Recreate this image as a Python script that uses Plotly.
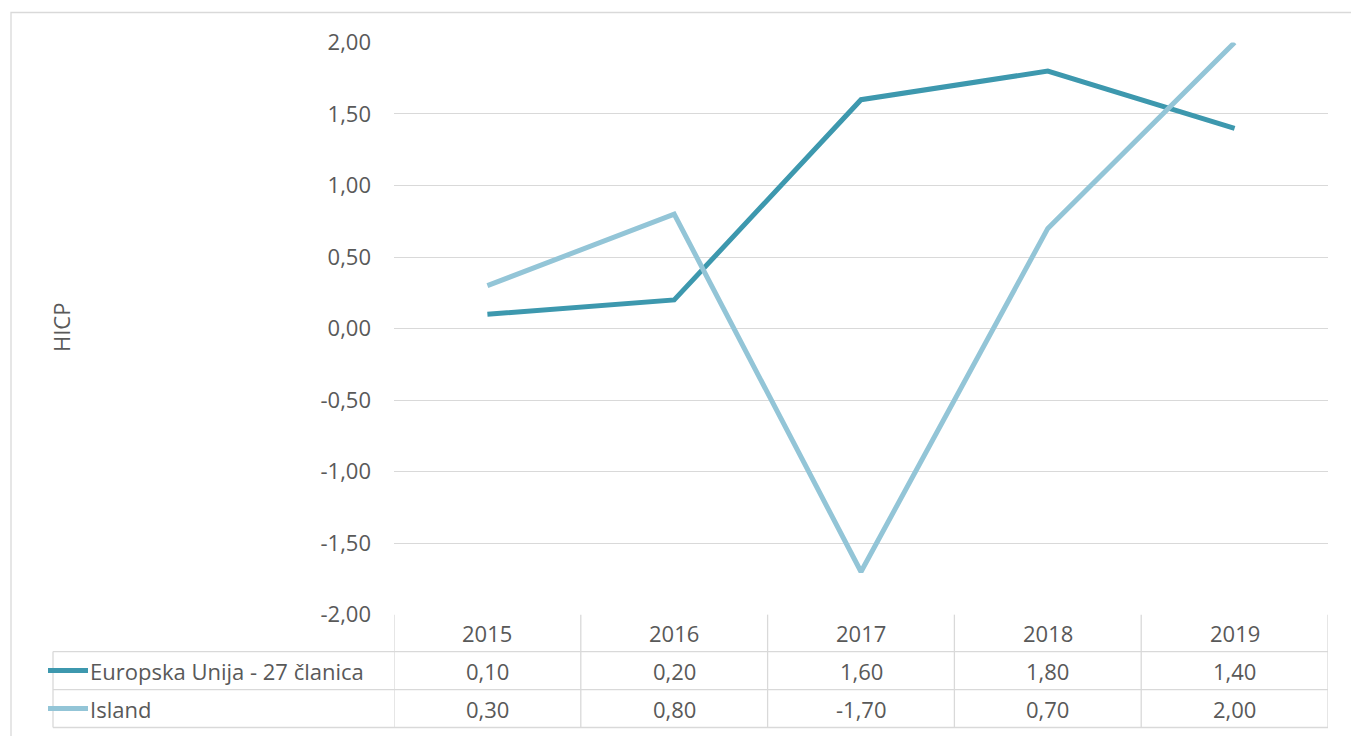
import plotly.graph_objects as go

years = ["2015", "2016", "2017", "2018", "2019"]
series_names = ["Europska Unija - 27 članica", "Island"]
eu_values = [0.10, 0.20, 1.60, 1.80, 1.40]
island_values = [0.30, 0.80, -1.70, 0.70, 2.00]
series_values = [eu_values, island_values]
colors = ["#3D98AE", "#93C5D7"]
y_ticks = [-2.0, -1.5, -1.0, -0.5, 0.0, 0.5, 1.0, 1.5, 2.0]

W, H = 1351, 762
OFF, SC = 15.5, 0.962
def px(x):
    return x / W
def py(y):
    return 1 - ((y - OFF) / SC) / H

FONT = "Open Sans"
TXT = "#595959"
GRID = "#D9D9D9"
FS = 22

def fmt(v):
    s = f"{v:.2f}".replace(".", ",")
    return s

fig = go.Figure()
for name, vals, col in zip(series_names, series_values, colors):
    fig.add_trace(go.Scatter(x=list(range(len(years))), y=vals, mode="lines", name=name,
                             line=dict(color=col, width=5), showlegend=False))

plot_x0, plot_x1 = 394, 1328
plot_y0, plot_y1 = 42, 615
row_tops = [615, 652, 690, 728]
leg_x = 53

shapes = []
shapes.append(dict(type="rect", xref="paper", yref="paper", x0=px(11), x1=px(1360), y0=py(12), y1=py(760),
                   line=dict(color=GRID, width=1.3), layer="below"))
for i, y in enumerate(row_tops[1:]):
    shapes.append(dict(type="line", xref="paper", yref="paper", x0=px(leg_x), x1=px(plot_x1), y0=py(y), y1=py(y),
                       line=dict(color=GRID, width=1.3)))
for i in range(len(years) + 1):
    shapes.append(dict(type="line", xref="x", yref="paper", x0=i - 0.5, x1=i - 0.5, y0=py(row_tops[0]), y1=py(row_tops[-1]),
                       line=dict(color=GRID, width=1.3)))
shapes.append(dict(type="line", xref="paper", yref="paper", x0=px(leg_x), x1=px(leg_x), y0=py(row_tops[1]), y1=py(row_tops[-1]),
                   line=dict(color=GRID, width=1.3)))

annotations = []
for i, yr in enumerate(years):
    annotations.append(dict(x=i, xref="x", y=py((row_tops[0] + row_tops[1]) / 2), yref="paper", text=yr,
                            showarrow=False, font=dict(family=FONT, size=FS, color=TXT), xanchor="center", yanchor="middle"))
for r, (name, vals, col) in enumerate(zip(series_names, series_values, colors)):
    ymid = (row_tops[r + 1] + row_tops[r + 2]) / 2
    for i, v in enumerate(vals):
        annotations.append(dict(x=i, xref="x", y=py(ymid), yref="paper", text=fmt(v), showarrow=False,
                                font=dict(family=FONT, size=FS, color=TXT), xanchor="center", yanchor="middle"))
    shapes.append(dict(type="line", xref="paper", yref="paper", x0=px(48), x1=px(88), y0=py(ymid), y1=py(ymid),
                       line=dict(color=col, width=5)))
    annotations.append(dict(x=px(88), xref="paper", y=py(ymid), yref="paper", text=name, showarrow=False,
                            font=dict(family=FONT, size=FS, color=TXT), xanchor="left", yanchor="middle"))
annotations.append(dict(x=px(61), xref="paper", y=py(328), yref="paper", text="HICP", textangle=-90, showarrow=False,
                        font=dict(family=FONT, size=FS, color=TXT), xanchor="center", yanchor="middle"))

fig.update_layout(
    width=W, height=H, margin=dict(l=0, r=0, t=0, b=0),
    paper_bgcolor="white", plot_bgcolor="white",
    xaxis=dict(domain=[px(plot_x0), px(plot_x1)], range=[-0.5, len(years) - 0.5], showticklabels=False,
               showgrid=False, zeroline=False, showline=False, fixedrange=True),
    yaxis=dict(domain=[py(plot_y1), py(plot_y0)], range=[-2, 2], tickvals=y_ticks,
               ticktext=[fmt(v) for v in y_ticks], showgrid=True, gridcolor=GRID, gridwidth=1.3,
               zeroline=False, showline=False, ticks="", ticklabelstandoff=22,
               tickfont=dict(family=FONT, size=FS, color=TXT), fixedrange=True),
    shapes=shapes, annotations=annotations,
)
fig.write_html("out.html", config={"displayModeBar": False},
               post_script="document.body.style.margin='0';document.body.style.overflow='hidden';")
